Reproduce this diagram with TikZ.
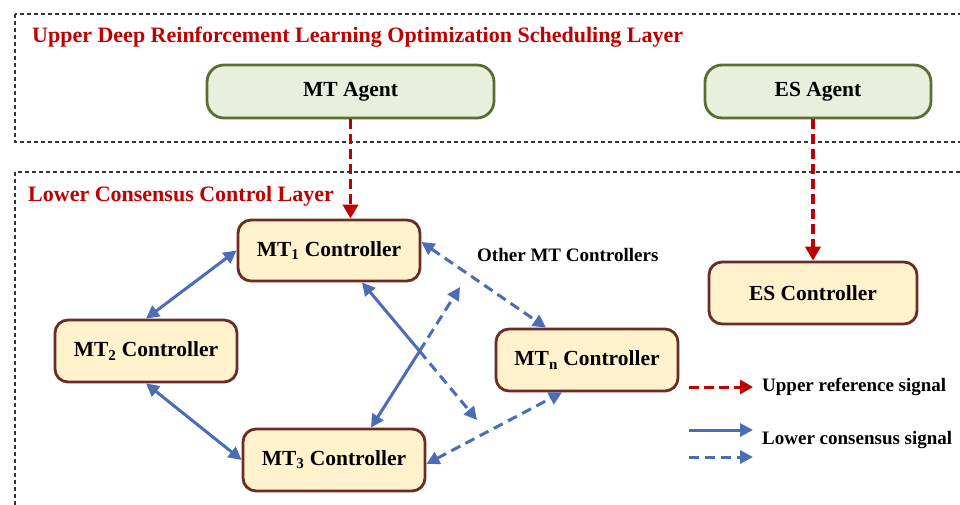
\documentclass[tikz,border=0pt]{standalone}
\usepackage{fontspec}
\setmainfont{Liberation Serif}
\usetikzlibrary{arrows.meta}
\definecolor{agentfill}{HTML}{E9EFDD}
\definecolor{agentdraw}{HTML}{5A6E30}
\definecolor{ctrlfill}{HTML}{FFF2CC}
\definecolor{ctrldraw}{HTML}{6B2C25}
\definecolor{sigblue}{HTML}{4B6CB7}
\definecolor{sigred}{HTML}{C00000}
\definecolor{framegray}{HTML}{333333}
\tikzset{
  layerbox/.style={draw=framegray, line width=1.1pt, dash pattern=on 4pt off 3pt},
  layertitle/.style={anchor=west, inner sep=0pt, text=sigred, font=\fontsize{22}{26}\selectfont\bfseries},
  agentbox/.style={draw=agentdraw, fill=agentfill, line width=2.8pt, rounded corners=17pt, font=\fontsize{21.5}{25}\selectfont\bfseries, inner sep=0pt},
  ctrlbox/.style={draw=ctrldraw, fill=ctrlfill, line width=2.8pt, rounded corners=13pt, font=\fontsize{21.5}{25}\selectfont\bfseries, inner sep=0pt},
  labeltext/.style={anchor=west, inner sep=0pt, font=\fontsize{19}{23}\selectfont\bfseries},
  redtip/.style={-{Triangle[length=14pt,width=15pt]}},
  bluetip/.style={-{Triangle[length=13pt,width=13pt]}},
  bluetips/.style={{Triangle[length=13pt,width=13pt]}-{Triangle[length=13pt,width=13pt]}},
  reddash/.style={draw=sigred, line width=3.5pt, dash pattern=on 10pt off 5pt},
  bluesolid/.style={draw=sigblue, line width=3pt},
  bluedash/.style={draw=sigblue, line width=3pt, dash pattern=on 10pt off 6pt},
}
\begin{document}
\begin{tikzpicture}[x=1pt,y=-1pt]
\useasboundingbox (0,0) rectangle (960,505);
\clip (0,0) rectangle (960,505);
% layer frames
\draw[layerbox] (15,14) rectangle (980,142);
\draw[layerbox] (15,172) rectangle (980,530);
\node[layertitle] (uptitle) at (32,37) {Upper Deep Reinforcement Learning Optimization Scheduling Layer};
\node[layertitle] (lowtitle) at (28,196) {Lower Consensus Control Layer};
% agents
\node[agentbox, minimum width=287pt, minimum height=53pt] (mtag) at (350.5,91.5) {MT Agent};
\node[agentbox, minimum width=226pt, minimum height=53pt] (esag) at (818,91.5) {ES Agent};
% controllers
\node[ctrlbox, minimum width=182pt, minimum height=61pt] (mt1) at (329,250.5) {MT\textsubscript{1} Controller};
\node[ctrlbox, minimum width=182pt, minimum height=62pt] (mt2) at (146,351) {MT\textsubscript{2} Controller};
\node[ctrlbox, minimum width=182pt, minimum height=62pt] (mt3) at (334,460) {MT\textsubscript{3} Controller};
\node[ctrlbox, minimum width=182pt, minimum height=62pt] (mtn) at (587,360) {MT\textsubscript{n} Controller};
\node[ctrlbox, minimum width=208pt, minimum height=62pt] (esc) at (813,293) {ES Controller};
\node[labeltext] (other) at (477,255) {Other MT Controllers};
% upper reference signals
\draw[reddash, redtip] (mtag.south) -- (mtag.south |- mt1.north);
\draw[reddash, redtip] (esc.north |- esag.south) -- (esc.north);
% consensus links
\draw[bluesolid, bluetips] (mt1.west) -- (mt2.north);
\draw[bluesolid, bluetips] (mt2.south) -- (mt3.west);
\draw[bluedash, bluetips] ([yshift=8.5pt]mt1.east) -- ([xshift=-41pt]mtn.north);
\draw[bluedash, bluetips] ([yshift=-4pt]mt3.east) -- ([xshift=-25pt]mtn.south);
\coordinate (xc) at (419.6,351.1);
\coordinate (endA) at (477,420);
\coordinate (endB) at (460,287);
\draw[bluesolid, bluetip] (xc) -- ([xshift=33pt]mt1.south);
\draw[bluedash, bluetip] (xc) -- (endA);
\draw[bluesolid, bluetip] (xc) -- ([xshift=37pt]mt3.north);
\draw[bluedash, bluetip] (xc) -- (endB);
% legend
\coordinate (lg1s) at (689,387);
\coordinate (lg1e) at (753,387);
\coordinate (lg2s) at (689,430);
\coordinate (lg2e) at (753,430);
\coordinate (lg3s) at (689,457);
\coordinate (lg3e) at (753,457);
\draw[reddash, line width=3pt, -{Triangle[length=13pt,width=14pt]}] (lg1s) -- (lg1e);
\draw[bluesolid, bluetip] (lg2s) -- (lg2e);
\draw[bluedash, bluetip] (lg3s) -- (lg3e);
\node[labeltext] (lgup) at (762,387) {Upper reference signal};
\node[labeltext] (lglow) at (762,440) {Lower consensus signal};
\end{tikzpicture}
\end{document}
